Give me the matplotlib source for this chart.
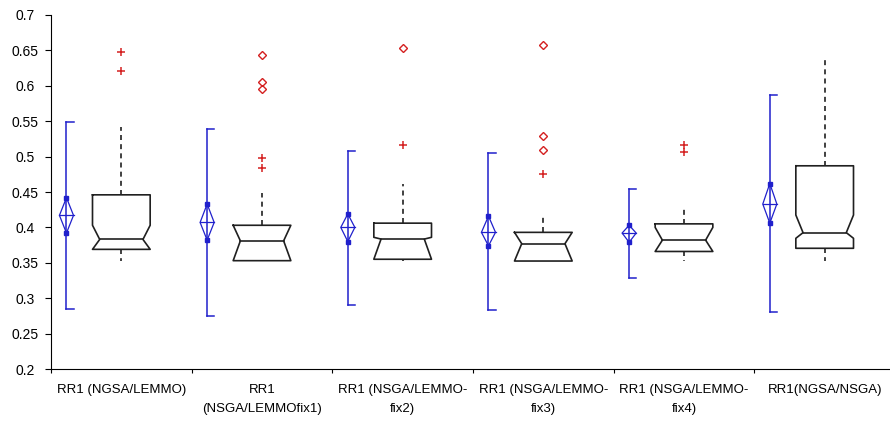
import numpy as np
import matplotlib
matplotlib.use("Agg")
import matplotlib.pyplot as plt

plt.rcParams['font.family'] = ['Liberation Sans', 'DejaVu Sans']

labels = ["RR1 (NGSA/LEMMO)", "RR1\n(NSGA/LEMMOfix1)", "RR1 (NSGA/LEMMO-\nfix2)",
          "RR1 (NSGA/LEMMO-\nfix3)", "RR1 (NSGA/LEMMO-\nfix4)", "RR1(NGSA/NSGA)"]

# blue: range line and mean diamond
range_hi = [0.549, 0.539, 0.508, 0.505, 0.454, 0.587]
range_lo = [0.285, 0.275, 0.290, 0.283, 0.328, 0.281]
mean_hi = [0.442, 0.433, 0.419, 0.416, 0.403, 0.462]
mean = [0.417, 0.407, 0.400, 0.393, 0.392, 0.433]
mean_lo = [0.392, 0.382, 0.380, 0.374, 0.379, 0.406]

# black notched boxes
q3 = [0.446, 0.403, 0.406, 0.393, 0.405, 0.487]
notch_hi = [0.403, 0.403, 0.386, 0.393, 0.400, 0.4175]
med = [0.383, 0.381, 0.3835, 0.377, 0.382, 0.3926]
notch_lo = [0.369, 0.353, 0.355, 0.3525, 0.366, 0.3846]
q1 = [0.369, 0.353, 0.355, 0.3525, 0.366, 0.3705]
whis_hi = [0.542, 0.449, 0.462, 0.418, 0.427, 0.639]
whis_lo = [0.352, 0.353, 0.352, 0.3525, 0.3525, 0.352]

out_plus = [[0.648, 0.621], [0.4985, 0.4835], [0.517], [0.476], [0.516, 0.507], []]
out_circ = [[], [0.644, 0.606, 0.595], [0.654], [0.657, 0.5295, 0.509], [], []]

blue = '#2020cc'
red = '#d42020'

fig = plt.figure(figsize=(8.9, 4.23), dpi=100)
ax = fig.add_axes([51/890, 1-369/423, (890-51)/890, (369-15)/423])

hw = 0.205
iw = hw*0.75
for i in range(6):
    b = i - 0.39
    ax.plot([b, b], [range_lo[i], range_hi[i]], color=blue, lw=1.1)
    ax.plot([b, b+0.05], [range_hi[i], range_hi[i]], color=blue, lw=1.1)
    ax.plot([b, b+0.05], [range_lo[i], range_lo[i]], color=blue, lw=1.1)
    ax.plot([b, b-0.05, b, b+0.05, b], [mean_hi[i], mean[i], mean_lo[i], mean[i], mean_hi[i]],
            color=blue, lw=0.9)
    ax.plot([b-0.05, b+0.05], [mean[i], mean[i]], color=blue, lw=0.9)
    ax.plot([b, b], [mean_lo[i], mean_hi[i]], ls='none', marker='s', ms=2.5, color=blue)

    c = i
    xs = [c-hw, c-hw, c-iw, c-hw, c-hw, c+hw, c+hw, c+iw, c+hw, c+hw, c-hw]
    ys = [q3[i], notch_hi[i], med[i], notch_lo[i], q1[i], q1[i], notch_lo[i], med[i],
          notch_hi[i], q3[i], q3[i]]
    ax.plot(xs, ys, color='#202020', lw=1.2)
    ax.plot([c-iw, c+iw], [med[i], med[i]], color='#202020', lw=1.2)
    ax.plot([c, c], [q3[i], whis_hi[i]], color='#202020', lw=1.2, ls=(0, (3, 2.5)))
    ax.plot([c, c], [q1[i], whis_lo[i]], color='#202020', lw=1.2, ls=(0, (3, 2.5)))

    ax.plot([c]*len(out_plus[i]), out_plus[i], ls='none', marker='+', ms=6, mew=1.1, color=red)
    ax.plot([c]*len(out_circ[i]), out_circ[i], ls='none', marker='D', ms=4.5, mew=1.0,
            mfc='none', mec=red)

ax.set_xlim(-0.5, 5.5 - 5/140.6)
ax.set_ylim(0.2, 0.7)
ax.spines['top'].set_visible(False)
ax.spines['right'].set_visible(False)

yt = np.arange(0.2, 0.701, 0.05)
ax.set_yticks(yt)
ax.set_yticklabels(['%g' % round(v, 2) for v in yt], fontsize=10, ha='center')
ax.tick_params(axis='y', direction='out', length=4, pad=14.5)

ax.set_xticks(np.arange(-0.5, 5.5, 1.0))
ax.set_xticklabels([])
ax.set_xticks(range(6), minor=True)
ax.set_xticklabels(labels, minor=True, fontsize=9.5, linespacing=1.75)
ax.tick_params(axis='x', which='major', direction='out', length=3)
ax.tick_params(axis='x', which='minor', length=0, pad=11)

fig.savefig("out.png", dpi=100)
